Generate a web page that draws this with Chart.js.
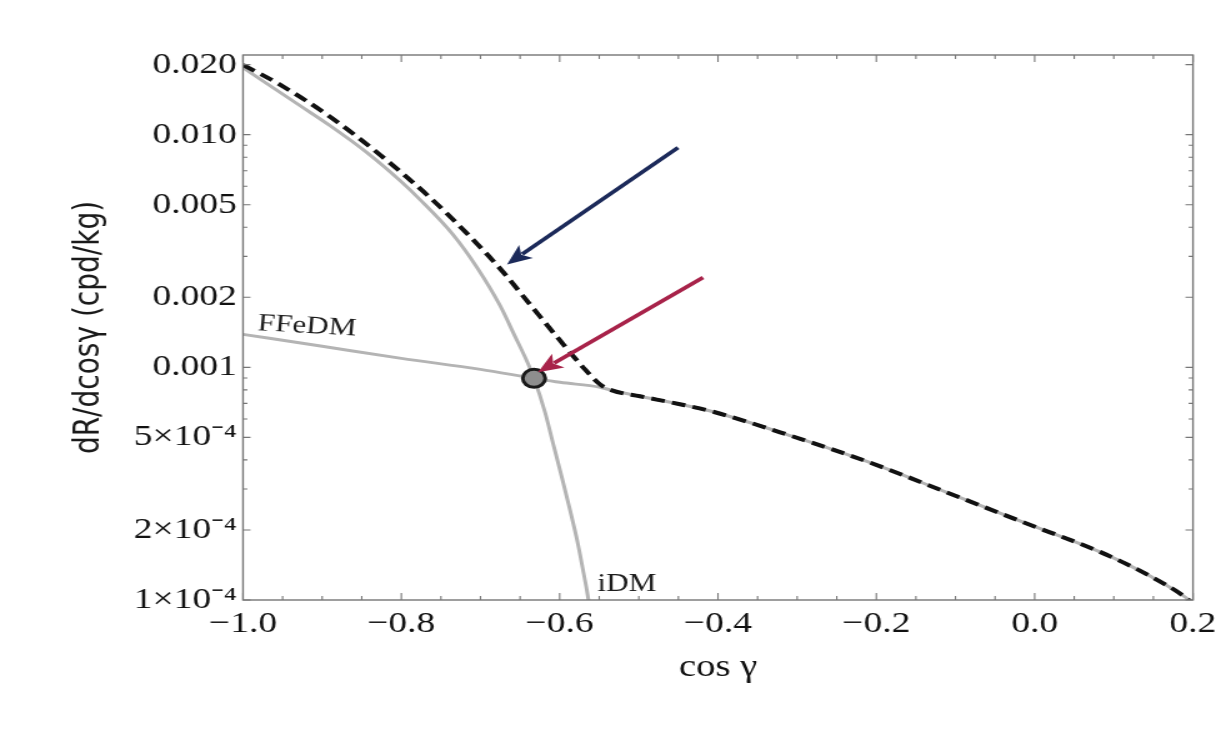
<!DOCTYPE html>
<html><head><meta charset="utf-8">
<script src="https://cdn.jsdelivr.net/npm/chart.js@4.4.1/dist/chart.umd.min.js"></script>
<style>
html,body{margin:0;padding:0;background:#fff;overflow:hidden;}
#wrap{width:985px;height:736px;transform:scaleX(1.2497);transform-origin:0 0;}
canvas{display:block;}
</style></head><body>
<div id="wrap"><canvas id="c" width="985" height="736"></canvas></div>
<script>
// ---- data ----
const totalX = [-1.0,-0.9533,-0.8901,-0.8273,-0.7638,-0.7133,-0.6754,-0.6375,-0.5996,-0.568,-0.549,-0.5339,-0.4985,-0.448,-0.4038,-0.3065,-0.2093,-0.112,-0.0147,0.0825,0.1457,0.19,0.1987];
const totalY = [0.01996,0.0164,0.01195,0.00821,0.00537,0.00365,0.00266,0.001864,0.001305,0.00098,0.000845,0.000796,0.000751,0.000694,0.000641,0.000506,0.000391,0.000291,0.000216,0.000161,0.0001268,0.000103,0.0000971];

const idmX = [-1.0,-0.928,-0.8901,-0.8434,-0.8017,-0.7764,-0.7347,-0.7044,-0.6754,-0.6564,-0.6413,-0.6324,-0.6185,-0.6084,-0.597,-0.5869,-0.578,-0.5705,-0.5655,-0.563];
const idmY = [0.01939,0.01332,0.01093,0.00837,0.00635,0.00526,0.00372,0.002687,0.001845,0.001358,0.001061,0.000897,0.000641,0.000472,0.000334,0.0002434,0.0001809,0.0001345,0.0001093,0.0000971];

const ffeX = [-1.0,-0.9,-0.8,-0.7,-0.6324,-0.5996,-0.549,-0.5339,-0.4985,-0.448,-0.4038,-0.3065,-0.2093,-0.112,-0.0147,0.0825,0.1457,0.19,0.1987];
const ffeY = [0.001386,0.001231,0.001093,0.00098,0.000897,0.000862,0.000821,0.000796,0.000751,0.000694,0.000641,0.000506,0.000391,0.000291,0.000216,0.000161,0.0001268,0.000103,0.0000971];

const crossX = [-0.6324];
const crossY = [0.000897];

const xMajorVals = [-1.0,-0.8,-0.6,-0.4,-0.2,0.0,0.2];
const xTickLabels = ['\u22121.0','\u22120.8','\u22120.6','\u22120.4','\u22120.2','0.0','0.2'];
const xMinorVals = [-0.95,-0.9,-0.85,-0.75,-0.7,-0.65,-0.55,-0.5,-0.45,-0.35,-0.3,-0.25,-0.15,-0.1,-0.05,0.05,0.1,0.15];

const yMajorVals = [1e-4,2e-4,5e-4,1e-3,2e-3,5e-3,1e-2,2e-2];
const yTickLabels = ['1\u00d710\u207b\u2074','2\u00d710\u207b\u2074','5\u00d710\u207b\u2074','0.001','0.002','0.005','0.010','0.020'];
const yMinorVals = [3e-4,4e-4,6e-4,7e-4,8e-4,9e-4,3e-3,4e-3,6e-3,7e-3,8e-3,9e-3];

const curveLabels = ['FFeDM','iDM'];
const curveLabelX = [-0.919,-0.515];
const curveLabelY = [0.00150,0.000117];

// arrows: [tailX, tailY, tipX, tipY]
const navyArrow = [-0.4505,0.00879,-0.6665,0.002767];
const redArrow = [-0.4189,0.002433,-0.6274,0.000952];

const xTitle = 'cos \u03b3';
const yTitle = 'dR/dcos\u03b3 (cpd/kg)';

const pts = (xs, ys) => xs.map((x,i)=>({x:x, y:ys[i]}));

const framePlugin = {
  id:'frameTicks',
  afterDatasetsDraw(chart){
    const {ctx, chartArea:a, scales:{x,y}} = chart;
    ctx.save();
    ctx.strokeStyle = '#767676';
    ctx.lineWidth = 1.4;
    ctx.strokeRect(a.left, a.top, a.right-a.left, a.bottom-a.top);
    ctx.lineWidth = 1.1;
    ctx.beginPath();
    x.ticks.forEach(t=>{
      const px = x.getPixelForValue(t.value);
      const L = xMajorVals.some(m=>Math.abs(m-t.value)<1e-9) ? 7 : 4;
      ctx.moveTo(px, a.bottom); ctx.lineTo(px, a.bottom-L);
      ctx.moveTo(px, a.top); ctx.lineTo(px, a.top+L);
    });
    y.ticks.forEach(t=>{
      const py = y.getPixelForValue(t.value);
      const L = yMajorVals.some(m=>Math.abs(m-t.value)/m<1e-6) ? 6 : 3.5;
      ctx.moveTo(a.left, py); ctx.lineTo(a.left+L, py);
      ctx.moveTo(a.right, py); ctx.lineTo(a.right-L, py);
    });
    ctx.stroke();
    // curve labels
    ctx.fillStyle = '#1e1e1e';
    ctx.font = '25px "Liberation Serif", serif';
    ctx.textAlign = 'center';
    ctx.textBaseline = 'middle';
    curveLabels.forEach((s,i)=>{
      const px = x.getPixelForValue(curveLabelX[i]);
      const py = y.getPixelForValue(curveLabelY[i]);
      ctx.save();
      ctx.translate(px, py);
      if (i === 0) ctx.rotate(4*Math.PI/180);
      ctx.fillText(s, 0, 0);
      ctx.restore();
    });
    ctx.restore();
  },
  afterDraw(chart){
    const {ctx, scales:{x,y}} = chart;
    const draw = (arr, color) => {
      const x0 = x.getPixelForValue(arr[0]), y0 = y.getPixelForValue(arr[1]);
      const x1 = x.getPixelForValue(arr[2]), y1 = y.getPixelForValue(arr[3]);
      const dx = x1-x0, dy = y1-y0, len = Math.hypot(dx,dy);
      const ux = dx/len, uy = dy/len;
      const hl = 20, hw = 8.5;
      ctx.save();
      ctx.strokeStyle = color; ctx.fillStyle = color;
      ctx.lineWidth = 3.6;
      ctx.beginPath();
      ctx.moveTo(x0,y0);
      ctx.lineTo(x1-ux*hl*0.8, y1-uy*hl*0.8);
      ctx.stroke();
      ctx.beginPath();
      ctx.moveTo(x1,y1);
      ctx.lineTo(x1-ux*hl - uy*hw, y1-uy*hl + ux*hw);
      ctx.lineTo(x1-ux*hl*0.75, y1-uy*hl*0.75);
      ctx.lineTo(x1-ux*hl + uy*hw, y1-uy*hl - ux*hw);
      ctx.closePath();
      ctx.fill();
      ctx.restore();
    };
    draw(navyArrow, '#1c2a5a');
    draw(redArrow, '#a8234a');
  }
};

new Chart(document.getElementById('c'), {
  type:'line',
  data:{
    datasets:[
      {label:'crossing', data:pts(crossX,crossY), showLine:false, pointRadius:9, pointBackgroundColor:'#8e8e8e', pointBorderColor:'#1a1a1a', pointBorderWidth:3},
      {label:'total', data:pts(totalX,totalY), borderColor:'#111', borderWidth:4, borderDash:[11,6], pointRadius:0, cubicInterpolationMode:'monotone', fill:false},
      {label:'FFeDM', data:pts(ffeX,ffeY), borderColor:'#b4b4b4', borderWidth:3, pointRadius:0, cubicInterpolationMode:'monotone', fill:false},
      {label:'iDM', data:pts(idmX,idmY), borderColor:'#b4b4b4', borderWidth:3, pointRadius:0, cubicInterpolationMode:'monotone', fill:false}
    ]
  },
  options:{
    responsive:false,
    animation:false,
    events:[],
    layout:{padding:{left:40, top:55, right:30.4, bottom:40}},
    plugins:{legend:{display:false}, tooltip:{enabled:false}},
    scales:{
      x:{
        type:'linear', min:-1.0, max:0.2,
        afterBuildTicks:(s)=>{ s.ticks = [...xMajorVals, ...xMinorVals].sort((a,b)=>a-b).map(v=>({value:v})); },
        afterFit:(s)=>{ s.height = 96; },
        grid:{display:false, drawTicks:false},
        border:{display:false},
        ticks:{
          autoSkip:false, maxRotation:0, padding:6, color:'#111',
          font:{family:'"Liberation Serif", serif', size:30},
          callback:(v)=>{ const i = xMajorVals.findIndex(m=>Math.abs(m-v)<1e-9); return i>=0 ? xTickLabels[i] : ''; }
        },
        title:{display:true, text:xTitle, color:'#111', font:{family:'"Liberation Serif", serif', size:31}, padding:{top:0, bottom:9.4}}
      },
      y:{
        type:'logarithmic', min:1e-4, max:0.022,
        afterBuildTicks:(s)=>{ s.ticks = [...yMajorVals, ...yMinorVals].sort((a,b)=>a-b).map(v=>({value:v})); },
        afterFit:(s)=>{ s.width = 154.45; },
        grid:{display:false, drawTicks:false},
        border:{display:false},
        ticks:{
          autoSkip:false, padding:5, color:'#111',
          font:{family:'"Liberation Serif", serif', size:30},
          callback:(v)=>{ const i = yMajorVals.findIndex(m=>Math.abs(m-v)/m<1e-6); return i>=0 ? yTickLabels[i] : ''; }
        },
        title:{display:true, text:yTitle, color:'#1a1a1a', font:{family:'"DejaVu Sans", sans-serif', size:28}, padding:{top:15, bottom:0}}
      }
    }
  },
  plugins:[framePlugin]
});
</script>
</body></html>
